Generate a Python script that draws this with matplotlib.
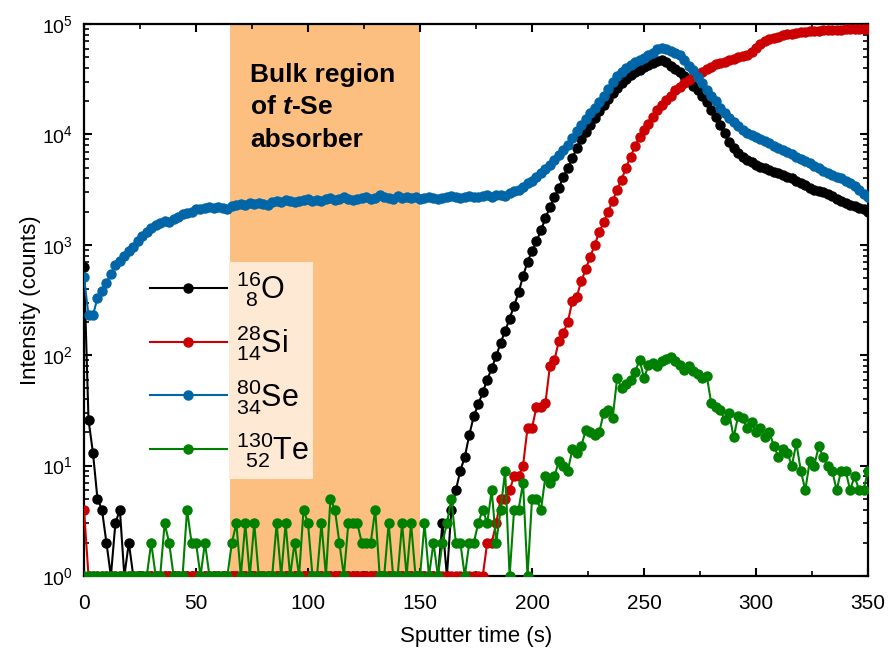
import matplotlib
matplotlib.use("Agg")
import matplotlib.pyplot as plt
import numpy as np
from matplotlib.patches import Rectangle
from matplotlib.ticker import MultipleLocator, LogLocator, NullFormatter

plt.rcParams['font.family'] = ['Liberation Sans', 'DejaVu Sans']
plt.rcParams['mathtext.fontset'] = 'custom'
plt.rcParams['mathtext.rm'] = 'Liberation Sans'
plt.rcParams['mathtext.it'] = 'Liberation Sans:italic'
plt.rcParams['mathtext.bf'] = 'Liberation Sans:bold'
plt.rcParams['mathtext.bfit'] = 'Liberation Sans:italic:bold'

# sputter time (s), one reading every 2 s
TIME = np.arange(0, 351, 2)

O16 = [630, 26, 13, 5, 4, 2, 1, 3, 4, 1,
       2, 1, 1, 1, 1, 1, 1, 1, 1, 1,
       1, 1, 1, 1, 1, 1, 1, 1, 1, 1,
       1, 1, 1, 1, 1, 1, 1, 1, 1, 1,
       1, 1, 1, 1, 1, 1, 1, 1, 1, 1,
       1, 1, 1, 1, 1, 1, 1, 1, 1, 1,
       1, 1, 1, 1, 1, 1, 1, 1, 1, 1,
       1, 1, 1, 1, 1, 1, 1, 1, 1, 1,
       3, 1, 4, 6, 9, 12, 19, 28, 36, 46,
       60, 76, 98, 130, 165, 215, 280, 370, 520, 700,
       880, 1080, 1350, 1750, 2200, 2700, 3300, 4100, 5000, 6100,
       7500, 9000, 10600, 12300, 14200, 16300, 18500, 21000, 23500, 26500,
       29500, 32000, 34500, 36500, 38500, 40500, 42500, 44000, 46000, 47000,
       45000, 42000, 39000, 36500, 33500, 30500, 27500, 25500, 22500, 19500,
       16500, 14500, 12300, 10300, 8500, 7500, 6800, 6300, 5900, 5600,
       5300, 5100, 4950, 4800, 4600, 4450, 4300, 4150, 4000, 3800,
       3650, 3500, 3300, 3150, 3100, 3000, 2900, 2750, 2600, 2500,
       2400, 2300, 2250, 2150, 2100, 2000]

Si28 = [4, 1, 1, 1, 1, 1, 1, 1, 1, 1,
        1, 1, 1, 1, 1, 1, 1, 1, 1, 1,
        1, 1, 1, 1, 1, 1, 1, 1, 1, 1,
        1, 1, 1, 1, 1, 1, 1, 1, 1, 1,
        1, 1, 1, 1, 1, 1, 1, 1, 1, 1,
        1, 1, 1, 1, 1, 1, 1, 1, 1, 1,
        1, 1, 1, 1, 1, 1, 1, 1, 1, 1,
        1, 1, 1, 1, 1, 1, 1, 1, 1, 1,
        1, 1, 1, 1, 1, 1, 1, 1, 1, 1,
        2, 2, 3, 5, 5, 6, 8, 8, 10, 22,
        22, 34, 34, 37, 80, 90, 135, 160, 200, 310,
        340, 470, 600, 780, 1000, 1300, 1600, 2000, 2500, 3150,
        3900, 5000, 6300, 7800, 9500, 11000, 12500, 14500, 16500, 18500,
        20500, 22500, 25000, 27000, 29000, 31000, 33000, 35000, 37000, 39000,
        41000, 43000, 44500, 45500, 47000, 48500, 50000, 51000, 52500, 56000,
        61000, 66000, 70000, 72500, 75000, 77000, 79000, 80500, 82000, 83000,
        84000, 85000, 86000, 86500, 87000, 87500, 88000, 88500, 88500, 89000,
        89500, 90000, 90000, 90500, 91000, 91000]

Se80 = [510, 230, 230, 330, 380, 450, 540, 650, 720, 800,
        880, 950, 1080, 1200, 1320, 1420, 1500, 1580, 1650, 1620,
        1700, 1800, 1900, 1950, 2000, 2100, 2100, 2150, 2200, 2150,
        2200, 2150, 2100, 2250, 2300, 2350, 2300, 2400, 2350, 2400,
        2350, 2300, 2450, 2500, 2450, 2550, 2500, 2450, 2500, 2550,
        2600, 2500, 2550, 2500, 2600, 2650, 2550, 2600, 2700, 2600,
        2550, 2600, 2650, 2700, 2600, 2650, 2800, 2700, 2650, 2600,
        2750, 2650, 2700, 2650, 2700, 2600, 2650, 2700, 2650, 2600,
        2650, 2700, 2750, 2700, 2650, 2700, 2750, 2700, 2700, 2750,
        2800, 2700, 2800, 2850, 2750, 2950, 3050, 3150, 3350, 3600,
        3800, 4100, 4500, 4900, 5300, 5900, 6500, 7200, 8000, 9300,
        10800, 12300, 13800, 15500, 17500, 19500, 22500, 26000, 30000, 34000,
        37000, 40000, 42500, 45000, 47000, 49500, 52000, 55000, 59000, 61000,
        60000, 57000, 54500, 52000, 47000, 42000, 38000, 33000, 29000, 25500,
        22500, 20000, 17500, 15500, 14000, 13000, 12000, 11000, 10300, 9800,
        9500, 9000, 8700, 8300, 7900, 7500, 7200, 6900, 6600, 6300,
        6000, 5800, 5500, 5200, 4950, 4700, 4500, 4300, 4150, 4000,
        3800, 3600, 3400, 3150, 2900, 2700]

Te130 = [1, 1, 1, 1, 1, 1, 1, 1, 1, 1,
         1, 1, 1, 1, 1, 2, 1, 1, 3, 2,
         1, 1, 1, 4, 2, 2, 1, 2, 1, 1,
         1, 1, 1, 2, 3, 1, 3, 1, 3, 1,
         1, 1, 1, 3, 1, 3, 1, 2, 1, 4,
         3, 1, 1, 3, 1, 5, 4, 2, 1, 3,
         3, 3, 2, 2, 2, 4, 1, 1, 3, 1,
         1, 3, 1, 3, 1, 1, 3, 1, 2, 1,
         2, 3, 5, 2, 2, 1, 2, 2, 3, 4,
         3, 6, 2, 4, 9, 1, 4, 4, 7, 1,
         5, 5, 4, 8, 7, 8, 11, 10, 9, 14,
         13, 15, 21, 20, 19, 20, 30, 32, 27, 62,
         50, 55, 60, 70, 91, 62, 81, 85, 80, 88,
         92, 96, 88, 81, 74, 80, 72, 68, 62, 65,
         37, 34, 32, 26, 30, 18, 28, 27, 22, 25,
         20, 22, 18, 20, 15, 12, 14, 13, 10, 16,
         9, 6, 11, 10, 15, 12, 10, 9, 6, 9,
         9, 6, 8, 6, 6, 9]

SERIES = [(O16, "#000000", r"${}^{16}_{\enspace 8}\mathrm{O}$"),
          (Si28, "#cc0000", r"${}^{28}_{14}\mathrm{Si}$"),
          (Se80, "#0066a8", r"${}^{80}_{34}\mathrm{Se}$"),
          (Te130, "#008000", r"${}^{130}_{\enspace 52}\mathrm{Te}$")]

BULK = (65, 150)

fig = plt.figure(figsize=(8.91, 6.53), dpi=100)
ax = fig.add_axes([0.0943, 0.1179, 0.8799, 0.8453])

ax.axvspan(*BULK, color="#fdbf80", lw=0, zorder=1)
for vals, col, lab in SERIES:
    ax.plot(TIME, vals, "-o", color=col, lw=1.5, ms=6.5, label=lab, zorder=3)

ax.set_yscale("log")
ax.set_xlim(0, 350); ax.set_ylim(1, 1e5)
ax.xaxis.set_major_locator(MultipleLocator(50))
ax.xaxis.set_minor_locator(MultipleLocator(25))
ax.yaxis.set_major_locator(LogLocator(base=10, numticks=10))
ax.yaxis.set_minor_locator(LogLocator(base=10, subs=np.arange(2, 10), numticks=10))
ax.yaxis.set_minor_formatter(NullFormatter())
ax.tick_params(which="both", direction="in", top=True, right=True, labelsize=14)
ax.tick_params(axis="x", pad=13, labelsize=15)
ax.tick_params(axis="y", pad=8)
ax.tick_params(which="major", length=6, width=1.5)
ax.tick_params(which="minor", length=3.5, width=1.2)
for s in ax.spines.values():
    s.set_linewidth(1.6)
ax.set_xlabel("Sputter time (s)", fontsize=16, labelpad=9)
ax.set_ylabel("Intensity (counts)", fontsize=16, labelpad=1)

ax.text(74, 0.93, "Bulk region\nof $\\mathbfit{t}$-Se\nabsorber", transform=ax.get_xaxis_transform(),
        fontsize=19, fontweight="bold", va="top", ha="left", linespacing=1.45, zorder=4)

leg = ax.legend(loc="upper left", bbox_to_anchor=(0.084, 0.555), frameon=False, fontsize=22,
                handlelength=2.52, handletextpad=0.3, labelspacing=0.45, borderpad=0,
                borderaxespad=0)
leg.set_zorder(5)

# peach background behind the legend labels only
fig.canvas.draw()
bbs = [t.get_window_extent() for t in leg.get_texts()]
x0 = min(b.x0 for b in bbs) - 7; x1 = max(b.x1 for b in bbs) + 4
y0 = min(b.y0 for b in bbs) - 9; y1 = max(b.y1 for b in bbs) + 8
(ax0, ay0), (ax1, ay1) = ax.transAxes.inverted().transform([(x0, y0), (x1, y1)])
ax.add_patch(Rectangle((ax0, ay0), ax1 - ax0, ay1 - ay0, transform=ax.transAxes,
                       facecolor="#fee9d5", edgecolor="none", zorder=1.5))

fig.savefig("out.png", dpi=100)
